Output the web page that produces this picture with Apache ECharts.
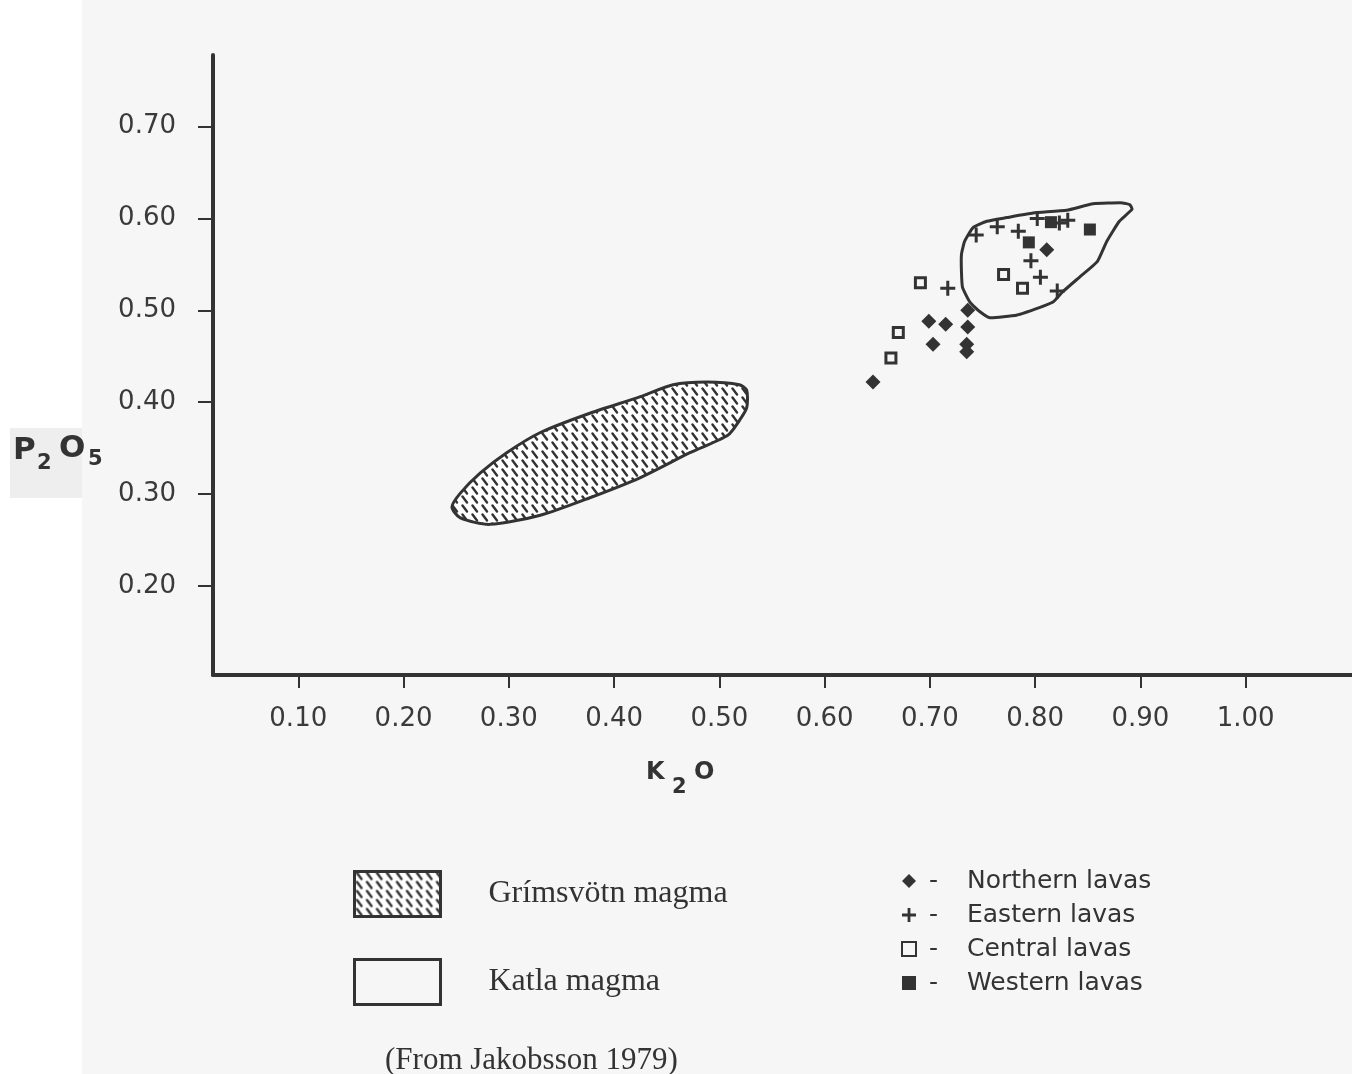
<!DOCTYPE html>
<html>
<head>
<meta charset="utf-8">
<script src="https://cdn.jsdelivr.net/npm/echarts@6/dist/echarts.min.js"></script>
<style>
html,body{margin:0;padding:0;background:#fff;}
#chart{width:1352px;height:1074px;}
</style>
</head>
<body>
<div id="chart"></div>
<script>
// ---- data (K2O, P2O5) ----
const xTickValues = [0.1, 0.2, 0.3, 0.4, 0.5, 0.6, 0.7, 0.8, 0.9, 1.0];
const yTickValues = [0.2, 0.3, 0.4, 0.5, 0.6, 0.7];

const northernLavas = [[0.646,0.422],[0.736,0.500],[0.699,0.488],[0.715,0.485],[0.736,0.482],[0.703,0.463],[0.735,0.463],[0.735,0.455],[0.811,0.566]];
const easternLavas = [[0.717,0.524],[0.744,0.582],[0.764,0.591],[0.784,0.586],[0.802,0.600],[0.823,0.595],[0.831,0.598],[0.796,0.554],[0.805,0.536],[0.821,0.521]];
const centralLavas = [[0.691,0.530],[0.670,0.476],[0.663,0.448],[0.770,0.539],[0.788,0.524]];
const westernLavas = [[0.815,0.596],[0.794,0.574],[0.852,0.588]];

const grimsvotnOutline = [[0.246,0.286],[0.254,0.301],[0.273,0.323],[0.298,0.345],[0.330,0.367],[0.377,0.388],[0.425,0.406],[0.456,0.419],[0.488,0.422],[0.519,0.419],[0.526,0.413],[0.526,0.394],[0.519,0.380],[0.508,0.364],[0.472,0.345],[0.425,0.318],[0.377,0.296],[0.330,0.277],[0.282,0.267],[0.254,0.274]];
const katlaOutline = [[0.890,0.615],[0.892,0.610],[0.880,0.597],[0.868,0.575],[0.859,0.553],[0.842,0.536],[0.826,0.520],[0.817,0.509],[0.804,0.503],[0.783,0.495],[0.757,0.492],[0.747,0.499],[0.738,0.509],[0.731,0.525],[0.730,0.542],[0.730,0.561],[0.733,0.575],[0.741,0.590],[0.754,0.597],[0.773,0.601],[0.798,0.606],[0.830,0.609],[0.855,0.616],[0.883,0.617]];

// ---- hatch pattern ----
const pc = document.createElement('canvas');
pc.width = 10; pc.height = 9;
const g = pc.getContext('2d');
g.fillStyle = '#ffffff'; g.fillRect(0, 0, 10, 9);
g.strokeStyle = '#333'; g.lineWidth = 2.4; g.lineCap = 'round';
g.beginPath(); g.moveTo(2.5, 1.5); g.lineTo(7, 7.5); g.stroke();
const hatch = { image: pc, repeat: 'repeat' };

const INK = '#333';
const FONT = 'DejaVu Sans';

function polygonSeries(name, pts, fill, smooth) {
  return {
    name: name,
    type: 'custom',
    coordinateSystem: 'cartesian2d',
    data: pts,
    z: 1,
    silent: true,
    itemStyle: { color: fill, borderColor: INK, borderWidth: 3 },
    renderItem: function (params, api) {
      if (params.dataIndex !== 0) return null;
      const points = pts.map(p => api.coord(p));
      return {
        type: 'polygon',
        shape: { points: points, smooth: smooth },
        style: { fill: fill, stroke: INK, lineWidth: 3 }
      };
    }
  };
}

const chart = echarts.init(document.getElementById('chart'), null, { renderer: 'canvas' });
chart.setOption({
  backgroundColor: '#f6f6f6',
  animation: false,
  title: {
    text: '(From Jakobsson 1979)',
    left: 380, top: 1040,
    textStyle: { fontFamily: 'Liberation Serif', fontSize: 31, fontWeight: 'normal', color: INK }
  },
  grid: { left: 213, right: 0, top: 55, bottom: 399, containLabel: false, outerBoundsMode: 'none' },
  xAxis: {
    type: 'value', min: 0.019, max: 1.101,
    splitLine: { show: false },
    axisLine: { show: true, onZero: false, lineStyle: { color: INK, width: 4 } },
    axisTick: { show: true, customValues: xTickValues, length: 13, lineStyle: { color: INK, width: 2 } },
    axisLabel: { customValues: xTickValues, margin: 31, fontFamily: FONT, fontSize: 26, color: '#3a3a3a',
      formatter: v => v.toFixed(2) }
  },
  yAxis: {
    type: 'value', min: 0.103, max: 0.778,
    splitLine: { show: false },
    axisLine: { show: true, onZero: false, lineStyle: { color: INK, width: 4 } },
    axisTick: { show: true, customValues: yTickValues, length: 15, lineStyle: { color: INK, width: 2 } },
    axisLabel: { customValues: yTickValues, margin: 37, fontFamily: FONT, fontSize: 26, color: '#3a3a3a',
      formatter: v => v.toFixed(2) }
  },
  legend: [
    {
      orient: 'vertical', left: 896, top: 861,
      itemWidth: 14, itemHeight: 14, itemGap: 4,
      selectedMode: false,
      data: ['Northern lavas', 'Eastern lavas', 'Central lavas', 'Western lavas'],
      formatter: n => '{d|-}{t|' + n + '}',
      textStyle: {
        color: INK, fontFamily: FONT, fontSize: 25, lineHeight: 30,
        rich: {
          d: { width: 38, padding: [0, 0, 0, 8], fontFamily: FONT, fontSize: 25, color: INK },
          t: { fontFamily: FONT, fontSize: 25, color: INK }
        }
      }
    },
    {
      orient: 'vertical', left: 348, top: 865,
      itemWidth: 86, itemHeight: 45, itemGap: 40,
      selectedMode: false,
      data: [
        { name: 'Grímsvötn magma', icon: 'rect', itemStyle: { color: hatch, borderColor: INK, borderWidth: 3 } },
        { name: 'Katla magma', icon: 'rect', itemStyle: { color: 'rgba(0,0,0,0)', borderColor: INK, borderWidth: 3 } }
      ],
      formatter: n => '{t|' + n + '}',
      textStyle: {
        rich: { t: { padding: [0, 0, 0, 43], fontFamily: 'Liberation Serif', fontSize: 32, color: INK } }
      }
    }
  ],
  graphic: [
    { type: 'rect', left: 0, top: 0, shape: { width: 82, height: 1074 }, style: { fill: '#ffffff' }, silent: true },
    { type: 'rect', left: 10, top: 428, shape: { width: 72, height: 70 }, style: { fill: '#eeeeee' }, silent: true },
    { type: 'text', left: 13, top: 435, style: { text: 'P', font: 'bold 31px "DejaVu Sans"', fill: INK } },
    { type: 'text', left: 37, top: 453, style: { text: '2', font: 'bold 21px "DejaVu Sans"', fill: INK } },
    { type: 'text', left: 59, top: 433, style: { text: 'O', font: 'bold 31px "DejaVu Sans"', fill: INK } },
    { type: 'text', left: 88, top: 449, style: { text: '5', font: 'bold 21px "DejaVu Sans"', fill: INK } },
    { type: 'text', left: 646, top: 761, style: { text: 'K', font: 'bold 24px "DejaVu Sans"', fill: INK } },
    { type: 'text', left: 672, top: 777, style: { text: '2', font: 'bold 21px "DejaVu Sans"', fill: INK } },
    { type: 'text', left: 694, top: 761, style: { text: 'O', font: 'bold 24px "DejaVu Sans"', fill: INK } }
  ],
  series: [
    polygonSeries('Grímsvötn magma', grimsvotnOutline, hatch, 0.25),
    polygonSeries('Katla magma', katlaOutline, 'rgba(0,0,0,0)', 0.15),
    {
      name: 'Northern lavas', type: 'scatter', data: northernLavas, z: 3,
      symbol: 'diamond', symbolSize: 15,
      itemStyle: { color: INK, opacity: 1 }
    },
    {
      name: 'Eastern lavas', type: 'scatter', data: easternLavas, z: 3,
      symbol: 'path://M4,0H6V4H10V6H6V10H4V6H0V4H4Z', symbolSize: 15,
      itemStyle: { color: INK, opacity: 1 }
    },
    {
      name: 'Central lavas', type: 'scatter', data: centralLavas, z: 3,
      symbol: 'rect', symbolSize: 10,
      itemStyle: { color: '#f6f6f6', borderColor: INK, borderWidth: 3, opacity: 1 }
    },
    {
      name: 'Western lavas', type: 'scatter', data: westernLavas, z: 3,
      symbol: 'rect', symbolSize: 12,
      itemStyle: { color: INK, opacity: 1 }
    }
  ]
});
</script>
</body>
</html>
